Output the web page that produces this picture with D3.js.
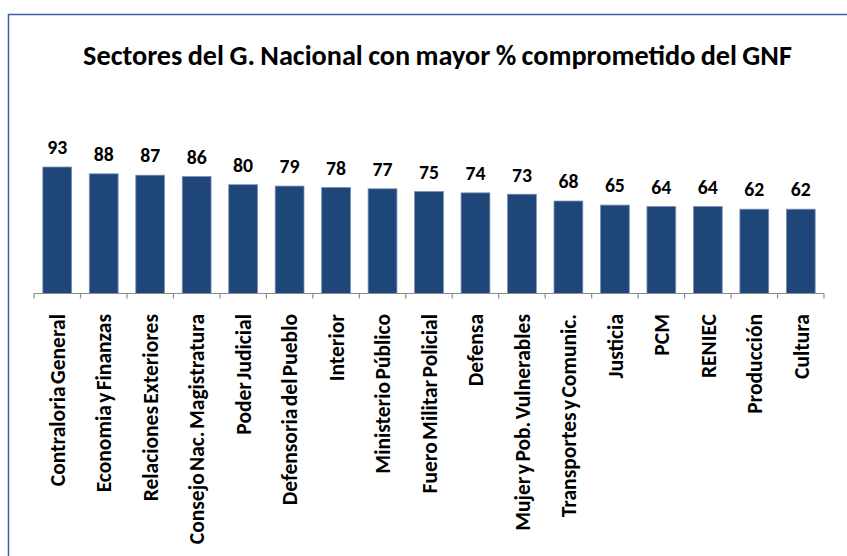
<!DOCTYPE html>
<html>
<head>
<meta charset="utf-8">
<script src="https://cdn.jsdelivr.net/npm/d3@7"></script>
<style>
  html, body { margin: 0; padding: 0; background: #fff; }
  svg { display: block; }
</style>
</head>
<body>
<svg id="chart" width="847" height="556"></svg>
<script>
const titleText = "Sectores del G. Nacional con mayor % comprometido del GNF";
const categories = [
  "Contraloria General", "Economia y Finanzas", "Relaciones Exteriores",
  "Consejo Nac. Magistratura", "Poder Judicial", "Defensoria del Pueblo",
  "Interior", "Ministerio Público", "Fuero Militar Policial", "Defensa",
  "Mujer y Pob. Vulnerables", "Transportes y Comunic.", "Justicia", "PCM",
  "RENIEC", "Producción", "Cultura"
];
const values = [93, 88, 87, 86, 80, 79, 78, 77, 75, 74, 73, 68, 65, 64, 64, 62, 62];

const FONT = "Carlito, Calibri, Lato, 'Open Sans', sans-serif";
const svg = d3.select("#chart");

// frame
svg.append("path")
  .attr("d", "M8.5,560 L8.5,14.5 L860,14.5")
  .attr("fill", "none")
  .attr("stroke", "#3D62A0")
  .attr("stroke-width", 1.5);

const x = d3.scaleBand().domain(categories).range([34, 824]).paddingInner(0.38).paddingOuter(0.19);
const y = d3.scaleLinear().domain([0, 100]).range([293.5, 157.5]);

function fit(sel, target) {
  const w = sel.node().getComputedTextLength();
  const fs = parseFloat(sel.attr("font-size"));
  sel.attr("font-size", fs * target / w);
  return fs * target / w;
}

// title
const title = svg.append("text")
  .attr("x", 437.5).attr("y", 64.5)
  .attr("text-anchor", "middle")
  .attr("font-family", FONT).attr("font-weight", "bold")
  .attr("word-spacing", -1)
  .attr("font-size", 25).attr("fill", "#000")
  .text(titleText);
fit(title, 708);

// bars
svg.append("g").selectAll("rect").data(values).join("rect")
  .attr("x", (d, i) => x(categories[i]))
  .attr("y", d => y(d))
  .attr("width", x.bandwidth())
  .attr("height", d => y(0) - y(d))
  .attr("fill", "#1F4678")
  .attr("stroke", "#7D92B6")
  .attr("stroke-width", 0.8);

// axis
const axis = d3.axisBottom(x).tickSize(0).tickFormat("");
const gAxis = svg.append("g").attr("transform", `translate(0,${y(0)})`).call(axis);
gAxis.select(".domain").attr("stroke", "#8C8C8C").attr("stroke-width", 1.2).attr("d", "M34,0H824");
const step = x.step();
const tickPos = d3.range(categories.length + 1).map(i => 34 + i * step);
gAxis.selectAll(".sep").data(tickPos).join("line")
  .attr("class", "sep")
  .attr("x1", d => d).attr("x2", d => d)
  .attr("y1", 0).attr("y2", 5)
  .attr("stroke", "#8C8C8C").attr("stroke-width", 1.2);

// value labels
const probe = svg.append("text").attr("font-family", FONT).attr("font-weight", "bold")
  .attr("font-size", 18).text("93");
const vfs = fit(probe, 20);
probe.remove();
svg.append("g").selectAll("text").data(values).join("text")
  .attr("x", (d, i) => x(categories[i]) + x.bandwidth() / 2)
  .attr("y", d => y(d) - 12.7)
  .attr("text-anchor", "middle")
  .attr("font-family", FONT).attr("font-weight", "bold")
  .attr("font-size", vfs).attr("fill", "#000")
  .text(d => d);

// category labels
const probe2 = svg.append("text").attr("font-family", FONT).attr("font-weight", "bold")
  .attr("word-spacing", -2.5)
  .attr("font-size", 19).text("Contraloria General");
const cfs = fit(probe2, 172);
probe2.remove();
svg.append("g").selectAll("text").data(categories).join("text")
  .attr("transform", d => `translate(${x(d) + x.bandwidth() / 2},314) rotate(-90)`)
  .attr("text-anchor", "end")
  .attr("dy", "0.36em")
  .attr("word-spacing", -2.5)
  .attr("font-family", FONT).attr("font-weight", "bold")
  .attr("font-size", cfs).attr("fill", "#000")
  .text(d => d);
</script>
</body>
</html>
